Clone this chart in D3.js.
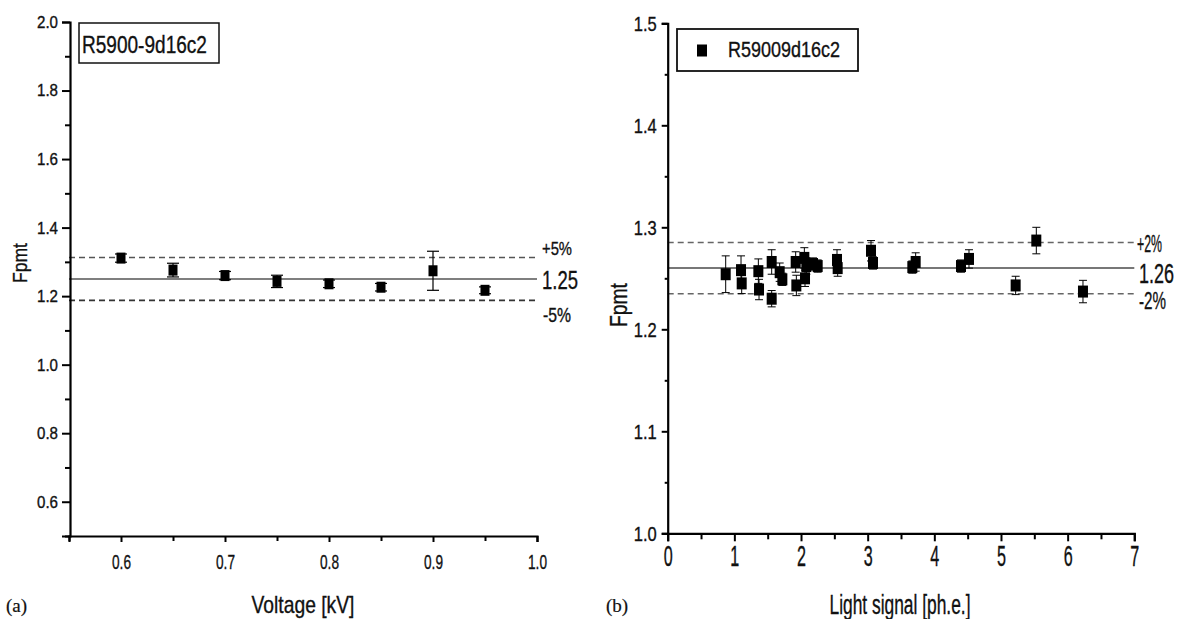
<!DOCTYPE html>
<html>
<head>
<meta charset="utf-8">
<script src="https://cdn.jsdelivr.net/npm/d3@7"></script>
<style>
  html, body { margin: 0; padding: 0; background: #fff; }
  svg { display: block; }
  text { font-family: "Liberation Sans", Arial, sans-serif; fill: #111; stroke: #111; stroke-width: 0.35px; }
</style>
</head>
<body>
<svg id="chart" width="1182" height="619"></svg>
<script>
// ---------- Data ----------
// Panel (a): Fpmt vs voltage
const voltage = [0.60, 0.65, 0.70, 0.75, 0.80, 0.85, 0.90, 0.95];
const fpmtA   = [1.311, 1.276, 1.260, 1.243, 1.236, 1.226, 1.274, 1.217];
const errA    = [0.012, 0.020, 0.012, 0.018, 0.011, 0.011, 0.057, 0.010];
const meanA = 1.25, bandA = 0.05;

// Panel (b): Fpmt vs light signal
const signal = [0.87, 1.10, 1.11, 1.36, 1.37, 1.56, 1.56, 1.68, 1.72, 1.92, 1.93, 2.05, 2.08, 2.06,
                2.18, 2.25, 2.54, 2.55, 3.05, 3.08, 3.67, 3.72, 4.40, 4.52, 5.22, 5.53, 6.23];
const fpmtB  = [1.254, 1.258, 1.245, 1.257, 1.239, 1.266, 1.230, 1.256, 1.249, 1.266, 1.243, 1.270, 1.262, 1.250,
                1.264, 1.262, 1.268, 1.260, 1.277, 1.265, 1.261, 1.266, 1.262, 1.269, 1.243, 1.287, 1.237];
const errB   = [0.018, 0.014, 0.010, 0.012, 0.010, 0.012, 0.008, 0.009, 0.006, 0.010, 0.010, 0.010, 0.008, 0.008,
                0.006, 0.006, 0.010, 0.008, 0.010, 0.006, 0.006, 0.009, 0.006, 0.009, 0.009, 0.013, 0.011];
const meanB = 1.26, bandB = 0.02;

// Ticks
const aYMajor = [0.6, 0.8, 1.0, 1.2, 1.4, 1.6, 1.8, 2.0];
const aYMinor = [0.5, 0.7, 0.9, 1.1, 1.3, 1.5, 1.7, 1.9];
const aXMajor = [0.6, 0.7, 0.8, 0.9, 1.0];
const aXMinor = [0.55, 0.65, 0.75, 0.85, 0.95];
const bYMajor = [1.0, 1.1, 1.2, 1.3, 1.4, 1.5];
const bYMinor = [1.05, 1.15, 1.25, 1.35, 1.45];
const bXMajor = [0, 1, 2, 3, 4, 5, 6, 7];
const bXMinor = [0.5, 1.5, 2.5, 3.5, 4.5, 5.5, 6.5];

const labelsA = { x: "Voltage [kV]", y: "Fpmt", legend: "R5900-9d16c2", panel: "(a)",
                  plus: "+5%", mean: "1.25", minus: "-5%" };
const labelsB = { x: "Light signal [ph.e.]", y: "Fpmt", legend: "R59009d16c2", panel: "(b)",
                  plus: "+2%", mean: "1.26", minus: "-2%" };

const svg = d3.select("#chart");
svg.append("rect").attr("width", 1182).attr("height", 619).attr("fill", "#fff");

// horizontally condensed text placed at (x, y) with given target width
function label(g, x, y, str, size, width, anchor = "start", rotate = 0) {
  const t = g.append("text").attr("text-anchor", anchor).style("font-size", size + "px").text(str);
  const w = t.node().getComputedTextLength();
  const k = width / w;
  t.attr("transform", `translate(${x},${y}) rotate(${rotate}) scale(${k},1)`);
  return t;
}
// condense axis tick labels to a target width
function fitTicks(sel, size, width) {
  sel.style("font-size", size + "px").attr("fill", "#111").each(function () {
    const t = d3.select(this);
    const w = this.getComputedTextLength();
    const k = width / w;
    const x0 = +t.attr("x") || 0;
    t.attr("x", x0 / k).attr("transform", `scale(${k},1)`);
  });
}
function styleAxis(a) {
  a.selectAll(".domain").attr("stroke", "#000").attr("stroke-width", 2.2);
  a.selectAll(".tick line").attr("stroke", "#000").attr("stroke-width", 2);
}

// ---------- Panel (a) ----------
{
  const x = d3.scaleLinear().domain([0.55, 1.0]).range([69, 537]);
  const y = d3.scaleLinear().domain([0.5, 2.0]).range([536, 22]);
  const g = svg.append("g");

  const lines = [
    { v: meanA * (1 + bandA), dash: "6,4", col: "#555", w: 1.5 },
    { v: meanA, dash: null, col: "#555", w: 1.3 },
    { v: meanA * (1 - bandA), dash: "6,4", col: "#333", w: 1.8 },
  ];
  lines.forEach(l => {
    g.append("line").attr("x1", x(0.55)).attr("x2", x(1.0))
      .attr("y1", y(l.v)).attr("y2", y(l.v))
      .attr("stroke", l.col).attr("stroke-width", l.w)
      .attr("stroke-dasharray", l.dash);
  });

  const cap = 6;
  voltage.forEach((v, i) => {
    const cx = x(v), y1 = y(fpmtA[i] + errA[i]), y0 = y(fpmtA[i] - errA[i]);
    g.append("line").attr("x1", cx).attr("x2", cx).attr("y1", y1).attr("y2", y0)
      .attr("stroke", "#000").attr("stroke-width", 1.2);
    [y1, y0].forEach(yy => g.append("line").attr("x1", cx - cap).attr("x2", cx + cap)
      .attr("y1", yy).attr("y2", yy).attr("stroke", "#000").attr("stroke-width", 1.2));
    g.append("rect").attr("x", cx - 4.5).attr("y", y(fpmtA[i]) - 5.5)
      .attr("width", 9).attr("height", 11).attr("fill", "#000");
  });

  const yAx = g.append("g").attr("transform", `translate(${x(0.55) + 1},0)`)
    .call(d3.axisLeft(y).tickValues(aYMajor).tickSize(8).tickPadding(4).tickFormat(d3.format(".1f")));
  const yMin = g.append("g").attr("transform", `translate(${x(0.55) + 1},0)`)
    .call(d3.axisLeft(y).tickValues(aYMinor).tickSize(5).tickFormat(""));
  yMin.select(".domain").remove();
  fitTicks(yAx.selectAll("text"), 17, 21);

  const xAx = g.append("g").attr("transform", `translate(0,${y(0.5)})`)
    .call(d3.axisBottom(x).tickValues(aXMajor).tickSize(6).tickPadding(12).tickFormat(d3.format(".1f")));
  const xMin = g.append("g").attr("transform", `translate(0,${y(0.5)})`)
    .call(d3.axisBottom(x).tickValues(aXMinor).tickSize(5).tickFormat(""));
  xMin.select(".domain").remove();
  fitTicks(xAx.selectAll("text"), 21, 19);
  [yAx, yMin, xAx, xMin].forEach(styleAxis);

  label(g, 542, 255, labelsA.plus, 19, 30);
  label(g, 542, 289, labelsA.mean, 26, 36);
  label(g, 543, 322, labelsA.minus, 20, 28);

  g.append("rect").attr("x", 79).attr("y", 23).attr("width", 140).attr("height", 40)
    .attr("fill", "#fff").attr("stroke", "#111").attr("stroke-width", 1.5);
  label(g, 82, 53, labelsA.legend, 24, 125);

  label(g, 303, 613, labelsA.x, 24, 103, "middle");
  label(g, 27, 263, labelsA.y, 21, 40, "middle", -90);
  g.append("text").attr("x", 6).attr("y", 612)
    .style("font-family", "'Liberation Serif', 'Times New Roman', serif").style("font-size", "19px")
    .style("stroke-width", "0.2px").text(labelsA.panel);
}

// ---------- Panel (b) ----------
{
  const x = d3.scaleLinear().domain([0, 7]).range([667.7, 1134.3]);
  const y = d3.scaleLinear().domain([1.0, 1.5]).range([533.3, 23.3]);
  const g = svg.append("g");

  const lines = [
    { v: meanB * (1 + bandB), dash: "6,4", col: "#666", w: 1.5 },
    { v: meanB, dash: null, col: "#777", w: 2 },
    { v: meanB * (1 - bandB), dash: "6,4", col: "#666", w: 1.5 },
  ];
  lines.forEach(l => {
    g.append("line").attr("x1", x(0)).attr("x2", x(7))
      .attr("y1", y(l.v)).attr("y2", y(l.v))
      .attr("stroke", l.col).attr("stroke-width", l.w)
      .attr("stroke-dasharray", l.dash);
  });

  const cap = 4;
  signal.forEach((s, i) => {
    const cx = x(s), y1 = y(fpmtB[i] + errB[i]), y0 = y(fpmtB[i] - errB[i]);
    g.append("line").attr("x1", cx).attr("x2", cx).attr("y1", y1).attr("y2", y0)
      .attr("stroke", "#000").attr("stroke-width", 1);
    [y1, y0].forEach(yy => g.append("line").attr("x1", cx - cap).attr("x2", cx + cap)
      .attr("y1", yy).attr("y2", yy).attr("stroke", "#000").attr("stroke-width", 1));
  });
  signal.forEach((s, i) => {
    g.append("rect").attr("x", x(s) - 5).attr("y", y(fpmtB[i]) - 6)
      .attr("width", 10).attr("height", 12).attr("fill", "#000");
  });

  const yAx = g.append("g").attr("transform", `translate(${x(0)},0)`)
    .call(d3.axisLeft(y).tickValues(bYMajor).tickSize(6).tickPadding(5).tickFormat(d3.format(".1f")));
  const yMin = g.append("g").attr("transform", `translate(${x(0)},0)`)
    .call(d3.axisLeft(y).tickValues(bYMinor).tickSize(3).tickFormat(""));
  yMin.select(".domain").remove();
  fitTicks(yAx.selectAll("text"), 21, 23);

  const xAx = g.append("g").attr("transform", `translate(0,${y(1.0)})`)
    .call(d3.axisBottom(x).tickValues(bXMajor).tickSize(8).tickPadding(4).tickFormat(d3.format("d")));
  const xMin = g.append("g").attr("transform", `translate(0,${y(1.0)})`)
    .call(d3.axisBottom(x).tickValues(bXMinor).tickSize(6).tickFormat(""));
  xMin.select(".domain").remove();
  fitTicks(xAx.selectAll("text"), 29, 9);
  [yAx, yMin, xAx, xMin].forEach(styleAxis);

  label(g, 1137, 252, labelsB.plus, 23, 25);
  label(g, 1139, 283, labelsB.mean, 28, 35);
  label(g, 1139, 309, labelsB.minus, 24, 27);

  g.append("rect").attr("x", 677).attr("y", 29).attr("width", 181).attr("height", 42)
    .attr("fill", "#fff").attr("stroke", "#111").attr("stroke-width", 1.8);
  g.append("rect").attr("x", 697).attr("y", 44.5).attr("width", 10).attr("height", 12).attr("fill", "#000");
  label(g, 728, 57, labelsB.legend, 22, 112);

  label(g, 900, 614, labelsB.x, 27, 141, "middle");
  label(g, 627, 305, labelsB.y, 23, 44, "middle", -90);
  g.append("text").attr("x", 606).attr("y", 612)
    .style("font-family", "'Liberation Serif', 'Times New Roman', serif").style("font-size", "19px")
    .style("stroke-width", "0.2px").text(labelsB.panel);
}
</script>
</body>
</html>
